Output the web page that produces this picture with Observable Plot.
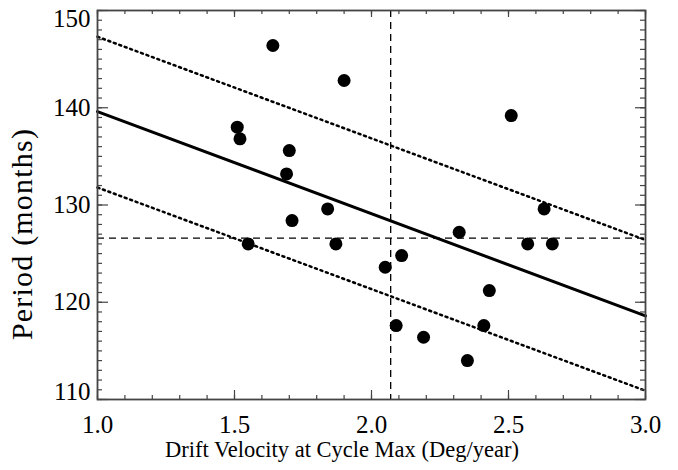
<!DOCTYPE html>
<html>
<head>
<meta charset="utf-8">
<script src="https://cdn.jsdelivr.net/npm/d3@7"></script>
<script src="https://cdn.jsdelivr.net/npm/@observablehq/plot@0.6"></script>
<style>
  html, body { margin: 0; padding: 0; background: #fff; }
  #chart svg { display: block; }
</style>
</head>
<body>
<div id="chart"></div>
<script>
// Data points
const driftVelocity = [1.64, 1.90, 1.51, 1.52, 1.70, 1.69, 1.84, 1.71, 1.55, 1.87, 2.11, 2.05, 2.09, 2.19,
                       2.51, 2.63, 2.32, 2.57, 2.66, 2.43, 2.41, 2.35];
const periodMonths  = [146.4, 142.8, 138.0, 136.8, 135.6, 133.2, 129.6, 128.4, 126.0, 126.0, 124.8, 123.6, 117.6, 116.4,
                       139.2, 129.6, 127.2, 126.0, 126.0, 121.2, 117.6, 114.0];

// Fit line and its bounds (end points at x = 1.0 and 3.0)
const fitX = [1.0, 3.0];
const fitMid = [139.6, 118.6];
const fitUpper = [147.3, 126.4];
const fitLower = [131.8, 110.9];

// Reference (mean) lines
const meanVelocity = [2.07];
const meanPeriod = [126.6];

// Tick values
const xMajor = [1.0, 1.5, 2.0, 2.5, 3.0];
const xMinor = d3.range(1.0, 3.0001, 0.1);
const yMajorMid = [120, 130, 140];
const yTop = [150];
const yBottom = [110];
const yMajor = [110, 120, 130, 140, 150];
const yMinor = d3.range(110, 150.5, 1);

const xTitle = "Drift Velocity at Cycle Max (Deg/year)";
const yTitle = "Period (months)";

const points = driftVelocity.map((x, i) => ({x, y: periodMonths[i]}));
const line = ys => fitX.map((x, i) => ({x, y: ys[i]}));

const W = 678, H = 470;
const mL = 97, mR = 33, mT = 10, mB = 71;
const fw = W - mL - mR, fh = H - mT - mB;
const axisColor = "#444";
const font = "'Liberation Serif', 'Times New Roman', serif";
const tickFont = 25;

const chart = Plot.plot({
  width: W,
  height: H,
  marginLeft: mL, marginRight: mR, marginTop: mT, marginBottom: mB,
  x: {domain: [1.0, 3.0], axis: null},
  y: {domain: [110, 150], axis: null},
  style: {fontFamily: font, background: "#fff", color: "#000"},
  marks: [
    // reference dashed lines
    Plot.ruleX(meanVelocity, {x: d => d, stroke: "#000", strokeWidth: 1.3, strokeDasharray: "7,5"}),
    Plot.ruleY(meanPeriod, {y: d => d, stroke: "#000", strokeWidth: 1.3, strokeDasharray: "7,5"}),
    // fit lines
    Plot.line(line(fitUpper), {x: "x", y: "y", stroke: "#000", strokeWidth: 2.5, strokeDasharray: "2,3.8"}),
    Plot.line(line(fitLower), {x: "x", y: "y", stroke: "#000", strokeWidth: 2.5, strokeDasharray: "2,3.8"}),
    Plot.line(line(fitMid), {x: "x", y: "y", stroke: "#000", strokeWidth: 3}),
    // points
    Plot.dot(points, {x: "x", y: "y", r: 6.5, fill: "#000", stroke: null}),
    // ticks bottom
    Plot.ruleX(xMinor, {x: d => d, insetTop: fh - 4, stroke: axisColor, strokeWidth: 1.2}),
    Plot.ruleX(xMajor, {x: d => d, insetTop: fh - 9, stroke: axisColor, strokeWidth: 1.2}),
    // ticks top
    Plot.ruleX(xMinor, {x: d => d, insetBottom: fh - 4, stroke: axisColor, strokeWidth: 1.2}),
    Plot.ruleX(xMajor, {x: d => d, insetBottom: fh - 7, stroke: axisColor, strokeWidth: 1.2}),
    // ticks left
    Plot.ruleY(yMinor, {y: d => d, insetRight: fw - 5, stroke: axisColor, strokeWidth: 1.2}),
    Plot.ruleY(yMajor, {y: d => d, insetRight: fw - 11, stroke: axisColor, strokeWidth: 1.2}),
    // ticks right
    Plot.ruleY(yMinor, {y: d => d, insetLeft: fw - 5, stroke: axisColor, strokeWidth: 1.2}),
    Plot.ruleY(yMajor, {y: d => d, insetLeft: fw - 10, stroke: axisColor, strokeWidth: 1.2}),
    Plot.frame({stroke: axisColor, strokeWidth: 1.8}),
    // tick labels
    Plot.text(xMajor, {x: d => d, text: d => d3.format(".1f")(d), frameAnchor: "bottom", lineAnchor: "bottom", dy: 33, fontSize: tickFont, fill: "#000"}),
    Plot.text(yMajorMid, {y: d => d, text: d => String(d), frameAnchor: "left", textAnchor: "end", lineAnchor: "middle", dx: -7, fontSize: tickFont, fill: "#000"}),
    Plot.text(yTop, {y: d => d, text: d => String(d), frameAnchor: "left", textAnchor: "end", lineAnchor: "top", dx: -7, dy: -1, fontSize: tickFont, fill: "#000"}),
    Plot.text(yBottom, {y: d => d, text: d => String(d), frameAnchor: "left", textAnchor: "end", lineAnchor: "bottom", dx: -7, dy: 0, fontSize: tickFont, fill: "#000"}),
    // axis titles
    Plot.text([xTitle], {text: d => d, frameAnchor: "bottom", textAnchor: "middle", lineAnchor: "bottom", dx: -29.5, dy: 57, fontSize: 22.5, fill: "#000"}),
    Plot.text([yTitle], {text: d => d, frameAnchor: "left", textAnchor: "middle", lineAnchor: "middle", rotate: -90, dx: -75, dy: 29, fontSize: 30, fill: "#000"})
  ]
});
d3.select(chart).selectAll("text").filter(function() { return this.textContent === yTitle; })
  .attr("letter-spacing", "1.2px");
document.getElementById("chart").appendChild(chart);
</script>
</body>
</html>
